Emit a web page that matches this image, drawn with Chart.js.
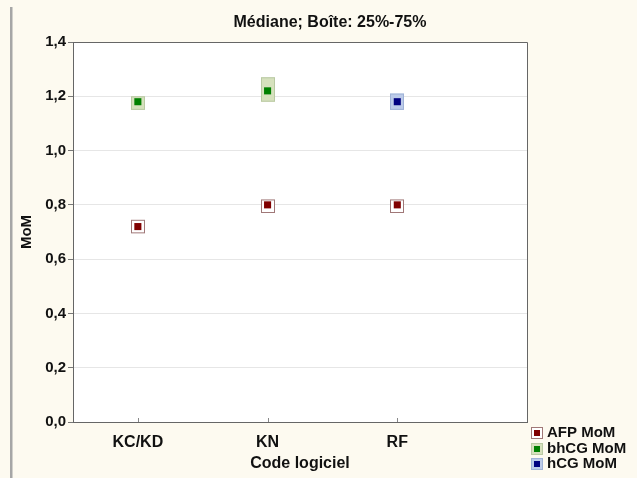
<!DOCTYPE html>
<html>
<head>
<meta charset="utf-8">
<script src="https://cdn.jsdelivr.net/npm/chart.js@4.4.1/dist/chart.umd.min.js"></script>
<style>
  html, body { margin: 0; padding: 0; background: #fdfaf0; }
  canvas { display: block; }
</style>
</head>
<body>
<canvas id="chart" width="637" height="478"></canvas>
<script>
// données
const categories = ['KC/KD', 'KN', 'RF'];
const afpMedian = [0.72, 0.80, 0.80];
const afpQ1 = [0.695, 0.77, 0.77];
const afpQ3 = [0.745, 0.82, 0.82];
const bhcgMedian = [1.18, 1.22, null];
const bhcgQ1 = [1.15, 1.18, null];
const bhcgQ3 = [1.20, 1.27, null];
const hcgMedian = [null, null, 1.18];
const hcgQ1 = [null, null, 1.15];
const hcgQ3 = [null, null, 1.21];
const yTicks = [0, 0.2, 0.4, 0.6, 0.8, 1.0, 1.2, 1.4];

const FONT = '"Liberation Sans", Arial, sans-serif';

const series = [
  { label: 'AFP MoM', median: afpMedian, q1: afpQ1, q3: afpQ3, color: '#800000', boxFill: '#ffffff', boxLine: '#a07878' },
  { label: 'bhCG MoM', median: bhcgMedian, q1: bhcgQ1, q3: bhcgQ3, color: '#008000', boxFill: '#d6e1bd', boxLine: '#b9c9a3' },
  { label: 'hCG MoM', median: hcgMedian, q1: hcgQ1, q3: hcgQ3, color: '#000080', boxFill: '#bccbe9', boxLine: '#9fb2d6' }
];

function toPoints(values) {
  const pts = [];
  values.forEach((v, i) => { if (v != null) pts.push({ x: i + 1, y: v }); });
  return pts;
}

// fond, cadre, boîtes, légende
const decorPlugin = {
  id: 'decor',
  beforeDraw(chart) {
    const { ctx, chartArea: a } = chart;
    ctx.save();
    ctx.fillStyle = '#fdfaf0';
    ctx.fillRect(0, 0, chart.width, chart.height);
    ctx.fillStyle = '#a6a6a6';
    ctx.fillRect(10, 7, 2.5, chart.height - 7);
    ctx.fillStyle = '#ffffff';
    ctx.fillRect(a.left, a.top, a.right - a.left, a.bottom - a.top);
    ctx.restore();
  },
  beforeDatasetsDraw(chart) {
    const { ctx, scales: { x, y } } = chart;
    ctx.save();
    ctx.lineWidth = 1;
    series.forEach(s => {
      s.median.forEach((m, i) => {
        if (m == null) return;
        const cx = Math.round(x.getPixelForValue(i + 1));
        const top = y.getPixelForValue(s.q3[i]);
        const bot = y.getPixelForValue(s.q1[i]);
        ctx.fillStyle = s.boxFill;
        ctx.strokeStyle = s.boxLine;
        ctx.fillRect(cx - 7, top, 14, bot - top);
        ctx.strokeRect(cx - 7 + 0.5, top + 0.5, 13, bot - top - 1);
      });
    });
    ctx.restore();
  },
  afterDraw(chart) {
    const { ctx, chartArea: a, scales: { x } } = chart;
    ctx.save();
    // cadre haut et droite
    ctx.strokeStyle = '#666666';
    ctx.lineWidth = 1;
    ctx.beginPath();
    ctx.moveTo(a.left, a.top + 0.5);
    ctx.lineTo(a.right + 0.5, a.top + 0.5);
    ctx.lineTo(a.right + 0.5, a.bottom);
    ctx.stroke();
    // petites graduations de l'axe x vers l'intérieur
    ctx.strokeStyle = '#888888';
    categories.forEach((c, i) => {
      const px = Math.round(x.getPixelForValue(i + 1)) + 0.5;
      ctx.beginPath();
      ctx.moveTo(px, a.bottom);
      ctx.lineTo(px, a.bottom - 4);
      ctx.stroke();
    });
    // titre
    ctx.fillStyle = '#111111';
    ctx.font = 'bold 16px ' + FONT;
    ctx.textAlign = 'center';
    ctx.textBaseline = 'alphabetic';
    ctx.fillText('Médiane; Boîte: 25%-75%', 330, 27);
    // légende
    ctx.textAlign = 'left';
    ctx.textBaseline = 'middle';
    ctx.font = 'bold 15px ' + FONT;
    series.forEach((s, i) => {
      const cy = Math.round(432 + i * 15.5);
      ctx.fillStyle = s.boxFill;
      ctx.fillRect(531, cy - 5, 12, 12);
      ctx.strokeStyle = s.boxLine;
      ctx.strokeRect(531.5, cy - 4.5, 11, 11);
      ctx.fillStyle = s.color;
      ctx.fillRect(534, cy - 2, 6, 6);
      ctx.fillStyle = '#111111';
      ctx.fillText(s.label, 547, cy + 1);
    });
    ctx.restore();
  }
};

new Chart(document.getElementById('chart'), {
  type: 'scatter',
  data: {
    datasets: series.map(s => ({
      label: s.label,
      data: toPoints(s.median),
      pointStyle: 'rect',
      pointRadius: 5,
      pointHoverRadius: 5,
      backgroundColor: s.color,
      borderColor: s.color,
      borderWidth: 0
    }))
  },
  options: {
    responsive: false,
    animation: false,
    layout: { padding: { top: 42, right: 110, left: 0, bottom: 0 } },
    plugins: {
      legend: { display: false },
      tooltip: { enabled: false }
    },
    scales: {
      x: {
        type: 'linear',
        min: 0.5,
        max: 4.0,
        afterBuildTicks: scale => { scale.ticks = categories.map((c, i) => ({ value: i + 1 })); },
        afterFit: scale => { scale.height = 56; },
        grid: { display: false },
        border: { display: true, color: '#666666' },
        ticks: {
          color: '#111111',
          font: { family: FONT, size: 16, weight: 'bold' },
          padding: 3,
          maxRotation: 0,
          callback: v => categories[v - 1] || ''
        },
        title: {
          display: true,
          text: 'Code logiciel',
          color: '#111111',
          font: { family: FONT, size: 16, weight: 'bold' },
          padding: { top: 0, bottom: 5 }
        }
      },
      y: {
        min: 0,
        max: 1.4,
        afterBuildTicks: scale => { scale.ticks = yTicks.map(v => ({ value: v })); },
        afterFit: scale => { scale.width = 73; },
        grid: { color: '#e6e6e6', tickColor: '#777777', tickLength: 5 },
        border: { display: true, color: '#666666' },
        ticks: {
          color: '#111111',
          font: { family: FONT, size: 15, weight: 'bold' },
          padding: 2,
          callback: v => v.toFixed(1).replace('.', ',')
        },
        title: {
          display: true,
          text: 'MoM',
          color: '#111111',
          font: { family: FONT, size: 15, weight: 'bold' },
          padding: { top: 18, bottom: 0 }
        }
      }
    }
  },
  plugins: [decorPlugin]
});
</script>
</body>
</html>
